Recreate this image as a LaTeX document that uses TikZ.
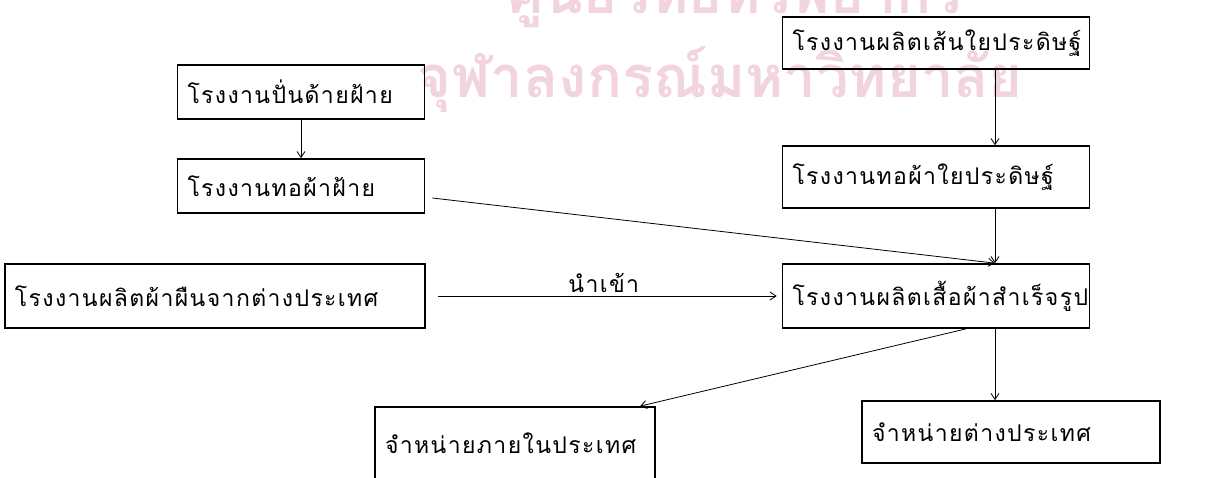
\documentclass[tikz,border=0pt]{standalone}
\usepackage{fontspec}
\usetikzlibrary{arrows.meta}
\newfontfamily\thaifont[Script=Thai,LetterSpace=6]{Loma}
\newfontfamily\markfont[Script=Thai]{Loma}
\definecolor{markpink}{RGB}{242,212,222}

\begin{document}
\begin{tikzpicture}[x=1pt,y=-1pt,
  plant/.style={draw,line width=1.7pt,inner xsep=10pt,inner ysep=0pt,align=left,
    text width=#1,font=\thaifont\fontsize{23}{27}\selectfont},
  stamp/.style={markpink,font=\markfont\bfseries\fontsize{58}{60}\selectfont},
  flow/.style={line width=0.8pt,-{Straight Barb[length=6pt,width=8pt]}}]
\useasboundingbox (0,0) rectangle (1219,477);
% watermark of the scan
\node[stamp] (wmtop) at (735,-5) {ศูนย์วิทยทรัพยากร};
\node[stamp] (wmbot) at (720,80) {จุฬาลงกรณ์มหาวิทยาลัย};

% cotton line
\node[plant=227,minimum height=54] (spin) at (301,92) {โรงงานปั่นด้ายฝ้าย};
\node[plant=227,minimum height=54] (cweave) at (301,186) {โรงงานทอผ้าฝ้าย};
% synthetic line
\node[plant=287,minimum height=52] (fibre) at (936,43) {โรงงานผลิตเส้นใยประดิษฐ์};
\node[plant=287,minimum height=62] (sweave) at (936,177) {โรงงานทอผ้าใยประดิษฐ์};
% import and garments
\node[plant=400,minimum height=64] (abroad) at (215,296) {โรงงานผลิตผ้าผืนจากต่างประเทศ};
\node[plant=287,minimum height=64] (garment) at (936,296) {โรงงานผลิตเสื้อผ้าสำเร็จรูป};
% sales
\node[plant=260,minimum height=72] (home) at (515,443) {จำหน่ายภายในประเทศ};
\node[plant=278,minimum height=62] (export) at (1011,432) {จำหน่ายต่างประเทศ};

\draw[flow] (spin.south) -- (cweave.north);
\draw[flow] ([xshift=59pt]fibre.south) -- ([xshift=59pt]sweave.north);
\draw[flow] ([xshift=59pt]sweave.south) -- ([xshift=59pt]garment.north);
\draw[flow] ([xshift=7pt,yshift=-12pt]cweave.east) -- ([xshift=59pt]garment.north);
\draw[flow,shorten <=12pt,shorten >=5pt] (abroad.east) -- (garment.west)
  node[midway,above,font=\thaifont\fontsize{23}{27}\selectfont] (imp) {นำเข้า};
\draw[flow] ([xshift=59pt]garment.south) coordinate (g1) -- (g1 |- export.north);
\draw[flow] ([xshift=30pt]garment.south) -- ([xshift=125pt]home.north);
\end{tikzpicture}
\end{document}
